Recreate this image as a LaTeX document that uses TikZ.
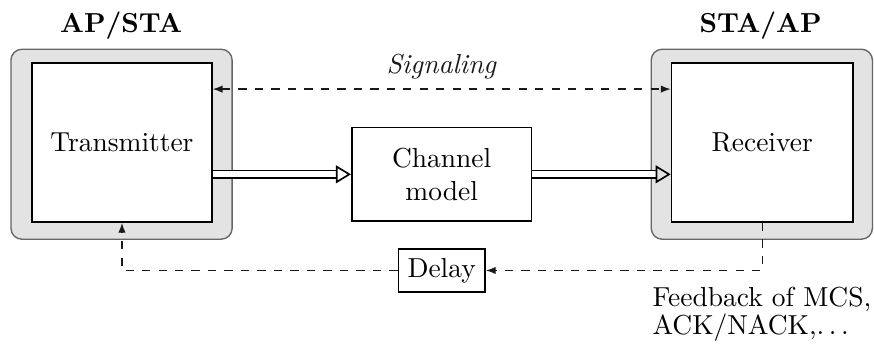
\documentclass[tikz,border=0pt]{standalone}
\usepackage{tikz}
\usetikzlibrary{arrows.meta,positioning}

\begin{document}
\begin{tikzpicture}[
    device/.style={draw=gray!80!black, fill=gray!22, rounded corners=4pt, line width=0.5pt,
                   minimum width=2.83cm, minimum height=2.43cm},
    block/.style={draw, fill=white, semithick, align=center},
    fbline/.style={dashed, black!90, line width=0.5pt},
    dataline/.style={double, double distance=2.2pt, line width=0.6pt,
                     -{Triangle[open, length=5.5pt, width=6.5pt]}},
  ]
  \useasboundingbox (0,0) rectangle (11.18,4.40);

  \node[device] (txdev) at (1.555,2.555) {};
  \node[device] (rxdev) at (9.745,2.555) {};
  \node[anchor=base, font=\bfseries] (txname) at (1.55,3.98) {AP/STA};
  \node[anchor=base, font=\bfseries] (rxname) at (9.73,3.98) {STA/AP};

  \node[block, minimum width=2.30cm, minimum height=2.03cm] (tx) at (1.56,2.575) {Transmitter};
  \node[block, minimum width=2.32cm, minimum height=2.03cm] (rx) at (9.75,2.575) {Receiver};
  \node[block, minimum width=2.30cm, minimum height=1.2cm] (ch) at (5.65,2.17) {Channel\\model};
  \node[block] (dly) at (5.65,0.94) {Delay};

  \coordinate (sig) at (5.65,3.26);
  \draw[fbline, {Latex[length=3.6pt]}-{Latex[length=3.6pt]}] (tx.east |- sig) -- (rx.west |- sig)
    node[midway, above] {\textit{Signaling}};

  \draw[dataline] (tx.east |- ch.west) -- (ch.west);
  \draw[dataline] (ch.east) -- (rx.west |- ch.east);

  \draw[fbline, -{Latex[length=3.6pt]}] (rx.south) |- (dly.east);
  \draw[fbline, -{Latex[length=3.6pt]}] (dly.west) -| (tx.south);

  \node[anchor=north west, inner sep=0pt, align=left] (fbtext) at (8.34,0.73)
    {Feedback of MCS,\\[-2pt] ACK/NACK,$\ldots$};
\end{tikzpicture}
\end{document}
